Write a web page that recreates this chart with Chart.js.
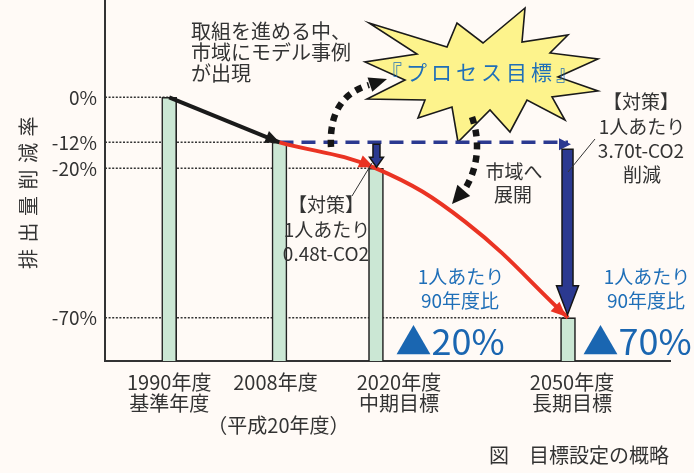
<!DOCTYPE html>
<html lang="ja">
<head>
<meta charset="utf-8">
<script src="https://cdn.jsdelivr.net/npm/chart.js@4.4.1/dist/chart.umd.min.js"></script>
<style>
html,body{margin:0;padding:0;background:#FFFAF6;}
canvas{display:block;}
</style>
</head>
<body>
<canvas id="c" width="694" height="473"></canvas>
<script>
// ---------------- data ----------------
const YEARS = [1990, 2008, 2020, 2050];
const LEVELS = [0, -12, -20, -70];              // reduction rate vs. 1990 (%)
const Y_TICKS = [0, -12, -20, -70];
const Y_TICK_LABELS = ['0%', '-12%', '-20%', '-70%'];
const X_LABELS = [
  ['1990年度', '基準年度'],
  ['2008年度', '', '（平成20年度）'],
  ['2020年度', '中期目標'],
  ['2050年度', '長期目標']
];
const PAST_X = [1990, 2008];
const PAST_Y = [0, -12];
const TARGET_X = [2008, 2020, 2034, 2050];      // red target path
const TARGET_Y = [-12, -20, -38, -70];
const BAU_X = [2008, 2050];                     // blue dashed (no further action)
const BAU_Y = [-12, -12];
const CUT_2020 = [-12, -20];
const CUT_2050 = [-12, -70];
const Y_MIN = -85, Y_MAX = 31, X_MIN = 1980, X_MAX = 2066;
const Y_TITLE = '排出量削減率';

// schematic (non-linear) axes of the original figure
const STOPS = {
  x: [[X_MIN, 0], [1990, 0.1136], [2008, 0.3088], [2020, 0.4796], [2050, 0.8195], [X_MAX, 1]],
  y: [[Y_MIN, 0], [-70, 0.12], [-20, 0.5338], [-12, 0.6058], [0, 0.7305], [Y_MAX, 1]]
};

class PiecewiseScale extends Chart.LinearScale {
  static id = 'piecewise';
  static defaults = {};
  _toDec(v) {
    const s = STOPS[this.id];
    let i = 1;
    while (i < s.length - 1 && v > s[i][0]) i++;
    const [v0, d0] = s[i - 1], [v1, d1] = s[i];
    return d0 + (v - v0) / (v1 - v0) * (d1 - d0);
  }
  _fromDec(d) {
    const s = STOPS[this.id];
    let i = 1;
    while (i < s.length - 1 && d > s[i][1]) i++;
    const [v0, d0] = s[i - 1], [v1, d1] = s[i];
    return v0 + (d - d0) / (d1 - d0) * (v1 - v0);
  }
  getPixelForValue(v) {
    if (v === null || v === undefined || isNaN(v)) return NaN;
    return this.getPixelForDecimal(this._toDec(v));
  }
  getValueForPixel(p) { return this._fromDec(this.getDecimalForPixel(p)); }
  drawTitle() {
    const c = this.ctx;
    c.save();
    if (this.id === 'y') { try { c.letterSpacing = '6.5px'; } catch (e) {} c.translate(0, 9); }
    super.drawTitle();
    c.restore();
  }
}
Chart.register(PiecewiseScale);

const FONT = '"Noto Sans CJK JP", "Noto Sans", sans-serif';
const TXT = '#333333';
const BLUE_TXT = '#1F6FB8';
const NAVY = '#2B3990';
const RED = '#EA3323';

function pts(xs, ys) { return xs.map((x, i) => ({ x, y: ys[i] })); }

function head(ctx, tx, ty, dx, dy, len, hw, color) {
  const L = Math.hypot(dx, dy) || 1, ux = dx / L, uy = dy / L;
  const bx = tx - ux * len, by = ty - uy * len;
  ctx.beginPath();
  ctx.moveTo(tx, ty);
  ctx.lineTo(bx - uy * hw, by + ux * hw);
  ctx.lineTo(bx + uy * hw, by - ux * hw);
  ctx.closePath();
  ctx.fillStyle = color;
  ctx.fill();
}

function blockArrow(ctx, x, yTop, yTip, sw, hw, hl) {
  ctx.beginPath();
  ctx.moveTo(x - sw / 2, yTop);
  ctx.lineTo(x + sw / 2, yTop);
  ctx.lineTo(x + sw / 2, yTip - hl);
  ctx.lineTo(x + hw / 2, yTip - hl);
  ctx.lineTo(x, yTip);
  ctx.lineTo(x - hw / 2, yTip - hl);
  ctx.lineTo(x - sw / 2, yTip - hl);
  ctx.closePath();
  ctx.fillStyle = NAVY;
  ctx.fill();
  ctx.lineWidth = 1.5;
  ctx.strokeStyle = '#151515';
  ctx.lineJoin = 'miter';
  ctx.stroke();
}

function text(ctx, s, x, y, size, color, align, spacing) {
  ctx.font = size + 'px ' + FONT;
  ctx.fillStyle = color;
  ctx.textAlign = align || 'center';
  ctx.textBaseline = 'middle';
  try { ctx.letterSpacing = (spacing || 0) + 'px'; } catch (e) {}
  ctx.fillText(s, x, y);
  try { ctx.letterSpacing = '0px'; } catch (e) {}
}

const STAR = [[369,23],[447,47],[457,23],[483,43],[525,8],[522,42],[568,35],[550,53],[598,59],[558,77],
  [598,91],[552,97],[565,120],[527,100],[510,132],[490,110],[458,142],[452,107],[418,118],[425,100],
  [367,99],[405,80],[365,62],[417,54]];

const annot = {
  id: 'annot',
  beforeDatasetsDraw(chart) {
    const ctx = chart.ctx;
    ctx.save();
    ctx.beginPath();
    STAR.forEach((p, i) => i ? ctx.lineTo(p[0], p[1]) : ctx.moveTo(p[0], p[1]));
    ctx.closePath();
    ctx.fillStyle = '#FDF38C';
    ctx.fill();
    ctx.lineWidth = 1.6;
    ctx.strokeStyle = '#1a1a1a';
    ctx.lineJoin = 'miter';
    ctx.stroke();
    text(ctx, '『プロセス目標』', 381, 72, 21, BLUE_TXT, 'left', 4);
    ctx.restore();
  },
  afterDatasetsDraw(chart) {
    const ctx = chart.ctx, xs = chart.scales.x, ys = chart.scales.y;
    const X = v => xs.getPixelForValue(v), Y = v => ys.getPixelForValue(v);
    ctx.save();

    // black arrow head (1990 -> 2008)
    head(ctx, X(PAST_X[1]), Y(PAST_Y[1]), X(PAST_X[1]) - X(PAST_X[0]), Y(PAST_Y[1]) - Y(PAST_Y[0]), 14, 6.5, '#1a1a1a');

    // blue dashed arrow head
    head(ctx, X(BAU_X[1]) + 3, Y(BAU_Y[1]) + 2, 1, 0, 12, 6, NAVY);

    // red arrow heads at 2020 and 2050
    const rm = chart.getDatasetMeta(chart.data.datasets.findIndex(d => d.label === 'target'));
    [1, rm.data.length - 1].forEach(i => {
      const p = rm.data[i];
      head(ctx, p.x - 2, p.y - 1, p.x - p.cp1x, p.y - p.cp1y, 15, 6.5, RED);
    });

    // reduction arrows
    blockArrow(ctx, X(2020) + 0.5, Y(CUT_2020[0]) + 2, Y(CUT_2020[1]) - 1, 7, 14, 10);
    blockArrow(ctx, X(2050) - 0.5, Y(CUT_2050[0]) + 7, Y(CUT_2050[1]) - 3, 11, 22, 29);

    // dotted curved arrows
    ctx.setLineDash([7, 6]);
    ctx.lineWidth = 6.5;
    ctx.strokeStyle = '#151515';
    ctx.lineCap = 'butt';
    ctx.beginPath();
    ctx.moveTo(331, 147);
    ctx.bezierCurveTo(329, 110, 345, 92, 369, 85);
    ctx.stroke();
    ctx.beginPath();
    ctx.moveTo(472, 117);
    ctx.bezierCurveTo(480, 140, 479, 166, 465, 189);
    ctx.stroke();
    ctx.setLineDash([]);
    head(ctx, 387, 79, 18, -6, 18, 7.5, '#151515');
    head(ctx, 452, 204, -13, 15, 18, 8.5, '#151515');

    // leader lines
    ctx.lineWidth = 1;
    ctx.strokeStyle = '#333';
    ctx.beginPath(); ctx.moveTo(352, 196); ctx.lineTo(372, 163); ctx.stroke();
    ctx.beginPath(); ctx.moveTo(595, 139); ctx.lineTo(568, 172); ctx.stroke();

    // texts
    text(ctx, '取組を進める中、', 191, 31, 20, TXT, 'left');
    text(ctx, '市域にモデル事例', 191, 52, 20, TXT, 'left');
    text(ctx, 'が出現', 191, 73, 20, TXT, 'left');

    text(ctx, '【対策】', 326, 205, 19, TXT);
    text(ctx, '1人あたり', 327, 230, 19, TXT);
    text(ctx, '0.48t-CO2', 326, 254, 19, TXT);

    text(ctx, '【対策】', 641, 102, 19, TXT);
    text(ctx, '1人あたり', 642, 127, 19, TXT);
    text(ctx, '3.70t-CO2', 641, 151, 19, TXT);
    text(ctx, '削減', 642, 175, 19, TXT);

    text(ctx, '市域へ', 514, 172, 19, TXT);
    text(ctx, '展開', 513, 195, 19, TXT);

    text(ctx, '1人あたり', 461, 277, 19, BLUE_TXT);
    text(ctx, '90年度比', 460, 301, 19, BLUE_TXT);
    text(ctx, '1人あたり', 647, 277, 19, BLUE_TXT);
    text(ctx, '90年度比', 646, 301, 19, BLUE_TXT);

    text(ctx, '▲20%', 450, 341, 36, '#1A66B1');
    text(ctx, '▲70%', 637, 341, 36, '#1A66B1');

    // category labels under the axis
    const offs = [0, -4, 23, 4];
    X_LABELS.forEach((lines, i) => {
      lines.forEach((s, j) => {
        if (s) text(ctx, s, X(YEARS[i]) + offs[i] + (j === 2 ? 3 : 0), 382 + 21.5 * j, 20, TXT);
      });
    });

    text(ctx, '図　目標設定の概略', 489, 455, 20, TXT, 'left');
    ctx.restore();
  }
};

const datasets = [];
Y_TICKS.forEach((lv, i) => {
  datasets.push({
    type: 'line', label: 'grid' + i,
    data: [{ x: X_MIN, y: LEVELS[i] }, { x: YEARS[i], y: LEVELS[i] }],
    borderColor: '#333', borderWidth: 1.5, borderDash: [2, 1.6],
    pointRadius: 0, order: 10
  });
});
datasets.push({
  type: 'bar', label: 'level',
  data: pts(YEARS, LEVELS),
  base: Y_MIN, barThickness: 15,
  backgroundColor: '#CBE7D4', borderColor: '#222', borderWidth: 1.6,
  order: 5
});
datasets.push({
  type: 'line', label: 'bau', data: pts(BAU_X, BAU_Y),
  borderColor: NAVY, borderWidth: 3.5, borderDash: [14, 8], borderCapStyle: 'butt',
  pointRadius: 0, order: 3
});
datasets.push({
  type: 'line', label: 'past', data: pts(PAST_X, PAST_Y),
  borderColor: '#1a1a1a', borderWidth: 4, borderCapStyle: 'butt',
  pointRadius: 0, order: 2
});
datasets.push({
  type: 'line', label: 'target', data: pts(TARGET_X, TARGET_Y),
  borderColor: RED, borderWidth: 4, borderCapStyle: 'butt', tension: 0.4,
  pointRadius: 0, order: 1
});

new Chart(document.getElementById('c'), {
  type: 'bar',
  data: { datasets },
  options: {
    responsive: false,
    animation: false,
    devicePixelRatio: 1,
    events: [],
    layout: { padding: { left: 0, right: 24, top: 0, bottom: 0 } },
    plugins: { legend: { display: false }, tooltip: { enabled: false } },
    scales: {
      x: {
        type: 'piecewise', min: X_MIN, max: X_MAX, offset: false,
        grid: { display: true, drawOnChartArea: false, drawTicks: false },
        border: { display: true, color: '#333', width: 2 },
        ticks: { display: false },
        afterFit: s => { s.height = 112; s.paddingLeft = 0; s.paddingRight = 0; }
      },
      y: {
        type: 'piecewise', min: Y_MIN, max: Y_MAX,
        grid: { display: true, drawOnChartArea: false, drawTicks: false },
        border: { display: true, color: '#333', width: 2 },
        afterBuildTicks: s => { s.ticks = Y_TICKS.map(v => ({ value: v })); },
        ticks: {
          padding: 8, color: TXT, font: { family: FONT, size: 19 },
          autoSkip: false,
          callback: (v) => Y_TICK_LABELS[Y_TICKS.indexOf(v)]
        },
        title: {
          display: true, text: Y_TITLE, color: TXT,
          font: { family: FONT, size: 20 }, padding: { top: 16, bottom: 0 }
        },
        afterFit: s => { s.width = 105; s.paddingTop = 0; s.paddingBottom = 0; }
      }
    }
  },
  plugins: [annot]
});
</script>
</body>
</html>
